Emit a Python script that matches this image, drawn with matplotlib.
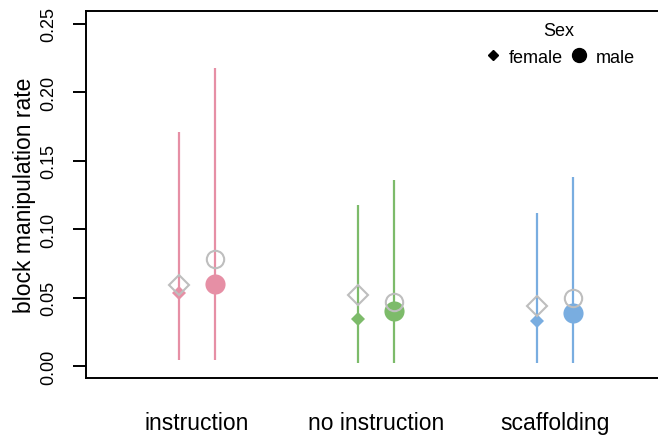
import matplotlib
matplotlib.use("Agg")
import matplotlib.pyplot as plt
from matplotlib.lines import Line2D
import numpy as np

plt.rcParams["font.family"] = ["Liberation Sans", "DejaVu Sans"]

# data
groups = ["instruction", "no instruction", "scaffolding"]
colors = ["#E68FA5", "#7DBB6A", "#79ADE0"]

female_est = [0.053, 0.034, 0.033]
female_lo = [0.004, 0.002, 0.002]
female_hi = [0.171, 0.118, 0.112]
female_raw = [0.059, 0.052, 0.044]

male_est = [0.060, 0.040, 0.039]
male_lo = [0.004, 0.002, 0.002]
male_hi = [0.218, 0.136, 0.138]
male_raw = [0.078, 0.047, 0.050]

offset = 0.1
grey = "#BEBEBE"

fig = plt.figure(figsize=(6.58, 4.39), dpi=100)
ax = fig.add_axes([86 / 658, 60 / 439, 580 / 658, 367 / 439])

x = np.arange(1, len(groups) + 1)
xf = x - offset
xm = x + offset

for i, col in enumerate(colors):
	ax.plot([xf[i], xf[i]], [female_lo[i], female_hi[i]], color=col, lw=1.6, solid_capstyle="butt", zorder=2)
	ax.plot([xm[i], xm[i]], [male_lo[i], male_hi[i]], color=col, lw=1.6, solid_capstyle="butt", zorder=2)
	ax.plot(xf[i], female_est[i], marker="D", ms=7.5, color=col, mec=col, mew=0, ls="none", zorder=3)
	ax.plot(xm[i], male_est[i], marker="o", ms=14.5, color=col, mec=col, mew=0, ls="none", zorder=3)

ax.plot(xf, female_raw, marker="D", ms=10.5, mfc="none", mec=grey, mew=1.5, ls="none", zorder=4)
ax.plot(xm, male_raw, marker="o", ms=12.5, mfc="none", mec=grey, mew=1.5, ls="none", zorder=4)

ax.set_xlim(0.38, 3.62)
ax.set_ylim(-0.0088, 0.2595)

ax.set_yticks([0.0, 0.05, 0.10, 0.15, 0.20, 0.25])
ax.set_yticklabels(["0.00", "0.05", "0.10", "0.15", "0.20", "0.25"])
ax.tick_params(axis="y", length=9.5, width=1.4, pad=11, labelsize=13, labelrotation=90)
for lab in ax.get_yticklabels():
	lab.set_va("center")

ax.set_xticks(x)
ax.set_xticklabels(groups)
ax.tick_params(axis="x", length=0, pad=24, labelsize=16.5)

ax.set_ylabel("block manipulation rate", fontsize=16.5)
ax.yaxis.set_label_coords(-0.086, 0.5)

for side in ["left", "bottom", "top", "right"]:
	ax.spines[side].set_linewidth(1.4)

handles = [
	Line2D([], [], marker="D", ms=5, color="black", ls="none"),
	Line2D([], [], marker="o", ms=10, color="black", ls="none"),
]
fig.legend(
	handles,
	["female", "male"],
	title="Sex",
	ncol=2,
	frameon=False,
	fontsize=13,
	title_fontsize=13,
	loc="center",
	bbox_to_anchor=(559 / 658, 394 / 439),
	handlelength=1.0,
	handletextpad=0.4,
	columnspacing=0.4,
	borderpad=0,
)

fig.savefig("out.png", dpi=100)
